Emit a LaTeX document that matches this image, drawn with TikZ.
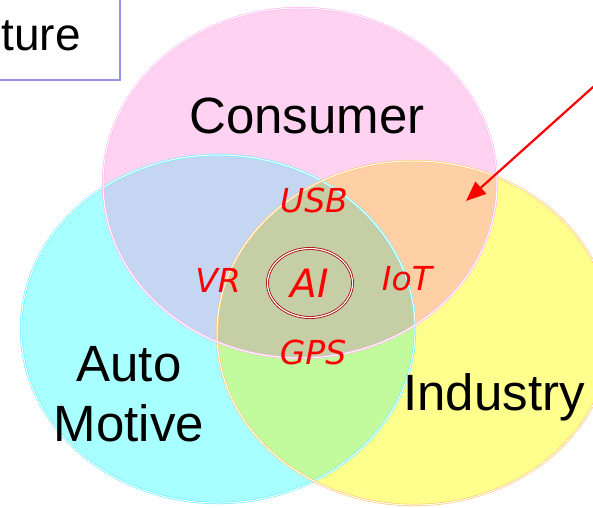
\documentclass[tikz,border=0pt]{standalone}
\usepackage{fontspec}
\setmainfont{Liberation Sans}
\newfontfamily\techfont{DejaVu Sans}
\usetikzlibrary{arrows.meta,shapes.geometric}

\definecolor{pinkfill}{HTML}{FFD2F2}
\definecolor{cyanfill}{HTML}{A8FFFF}
\definecolor{yellowfill}{HTML}{FFFF8E}
\definecolor{pinkcyan}{HTML}{C4D6F2}
\definecolor{pinkyellow}{HTML}{FFD0A6}
\definecolor{cyanyellow}{HTML}{C2FA9E}
\definecolor{allthree}{HTML}{C6CEA6}
\definecolor{pinkline}{HTML}{FFB0EE}
\definecolor{cyanline}{HTML}{60F0FF}
\definecolor{yellowline}{HTML}{FFC466}
\definecolor{boxline}{HTML}{9494E0}
\definecolor{ringred}{HTML}{A80000}

\tikzset{
  setline/.style={line width=0.6pt, double=white, double distance=1pt},
  setname/.style={font=\fontsize{51}{60}\selectfont, text=black, align=center, inner sep=0pt},
  tech/.style={font=\techfont\itshape\fontsize{33}{33}\selectfont, text=red, inner sep=0pt},
  pointer/.style={red, line width=2.2pt, -{Triangle[length=20pt,width=16pt]}},
}

% the three sets
\newcommand{\cyanset}{(218,329) ellipse [x radius=197, y radius=174]}
\newcommand{\yellowset}{(414,333) ellipse [x radius=197, y radius=172]}
\newcommand{\pinkset}{(300,183) ellipse [x radius=197, y radius=175]}

\begin{document}
\begin{tikzpicture}[x=1pt,y=-1pt]
  \useasboundingbox (0,0) rectangle (593,507);

  % Draw the three sets
  \fill[cyanfill] \cyanset;
  \fill[yellowfill] \yellowset;
  \fill[pinkfill] \pinkset;

  % Draw the overlaps
  \begin{scope}
    \clip \cyanset;
    \fill[pinkcyan] \pinkset;
    \fill[cyanyellow] \yellowset;
  \end{scope}
  \begin{scope}
    \clip \pinkset;
    \fill[pinkyellow] \yellowset;
    \clip \cyanset;
    \fill[allthree] \yellowset;
  \end{scope}

  % Draw the set outlines
  \draw[cyanline, setline] \cyanset;
  \draw[yellowline, setline] \yellowset;
  \draw[pinkline, setline] \pinkset;

  % Title box, cut by the page edge
  \draw[boxline, line width=1.2pt] (-20,-20) rectangle (120,80);
  \node[setname, font=\fontsize{46}{46}\selectfont, anchor=base east] (title) at (81,50) {ture};

  % Set names
  \node[setname] (consumer) at (307,116) {Consumer};
  \node[setname] (auto) at (129,394) {Auto\\Motive};
  \node[setname, anchor=base] (industry) at (494,410) {Industry};

  % Technologies in the overlaps
  \node[tech] (usb) at (314,200) {USB};
  \node[tech] (vr) at (218,280) {VR};
  \node[tech] (iot) at (407,279) {IoT};
  \node[tech] (gps) at (313,352) {GPS};
  \node[tech, font=\techfont\itshape\fontsize{39}{39}\selectfont, ellipse, minimum width=85pt, minimum height=69pt,
        draw=ringred, line width=0.8pt, double=white, double distance=1.2pt] (ai) at (310,283) {AI};

  % Pointer into the consumer/industry overlap
  \coordinate (arrowfrom) at (612,70);
  \coordinate (arrowto) at (466,201);
  \draw[pointer] (arrowfrom) -- (arrowto);
\end{tikzpicture}
\end{document}
